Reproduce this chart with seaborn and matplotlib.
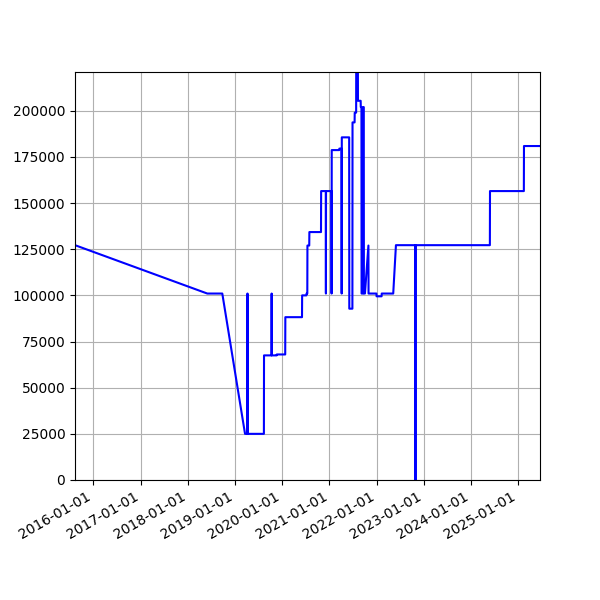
import matplotlib
matplotlib.use("Agg")
import matplotlib.pyplot as plt
import matplotlib.dates as mdates
import seaborn as sns
import pandas as pd

dates = [
    "2015-08-12", "2018-06-01", "2018-09-25", "2019-03-20",
    "2019-04-07", "2019-04-08", "2019-04-09",
    "2019-08-13", "2019-08-14",
    "2019-10-11", "2019-10-12", "2019-10-13",
    "2019-11-20", "2019-11-21",
    "2020-01-25", "2020-01-26",
    "2020-06-03", "2020-06-04",
    "2020-07-07", "2020-07-08",
    "2020-07-14", "2020-07-15",
    "2020-07-29", "2020-07-30",
    "2020-10-28", "2020-10-29",
    "2020-12-04", "2020-12-05", "2020-12-06",
    "2021-01-17", "2021-01-18", "2021-01-19",
    "2021-03-18", "2021-03-19",
    "2021-04-05", "2021-04-06", "2021-04-07",
    "2021-06-03", "2021-06-04",
    "2021-06-28", "2021-06-29",
    "2021-07-15", "2021-07-16",
    "2021-07-27", "2021-07-28",
    "2021-08-09", "2021-08-10",
    "2021-08-31", "2021-09-01",
    "2021-09-06", "2021-09-07",
    "2021-09-17", "2021-09-18",
    "2021-09-24", "2021-09-25",
    "2021-10-03", "2021-10-30", "2021-10-31",
    "2021-12-31", "2022-01-01",
    "2022-02-09", "2022-02-10",
    "2022-05-10", "2022-05-31",
    "2022-10-28", "2022-10-29", "2022-10-30",
    "2024-05-27", "2024-05-28",
    "2025-02-14", "2025-02-15",
    "2025-06-19",
]
prices = [
    127200, 101000, 101000, 25000,
    25000, 101000, 25000,
    25000, 67500,
    67500, 101000, 67500,
    67500, 68000,
    68000, 88200,
    88200, 100000,
    100000, 101000,
    101000, 127000,
    127000, 134300,
    134300, 156500,
    156500, 101000, 156500,
    156500, 101000, 178700,
    178700, 179500,
    179500, 101000, 185600,
    185600, 92800,
    92800, 193700,
    193700, 199000,
    199000, 240000,
    240000, 205400,
    205400, 202000,
    202000, 101000,
    101000, 202000,
    202000, 101000,
    101000, 127000, 101000,
    101000, 99500,
    99500, 101000,
    101000, 127200,
    127200, 0, 127200,
    127200, 156500,
    156500, 180900,
    180900,
]

df = pd.DataFrame({"date": pd.to_datetime(dates), "price": prices})

fig, ax = plt.subplots(figsize=(6, 6), dpi=100)
sns.lineplot(data=df, x="date", y="price", color="blue", estimator=None,
             sort=False, ax=ax, linewidth=1.5)
ax.set_xlabel("")
ax.set_ylabel("")
ax.grid(True)
ax.set_xlim(pd.Timestamp("2015-08-12"), pd.Timestamp("2025-06-19"))
ax.set_ylim(0, 221000)
ax.xaxis.set_major_locator(mdates.YearLocator())
ax.xaxis.set_major_formatter(mdates.DateFormatter("%Y-%m-%d"))
fig.autofmt_xdate()
fig.savefig("out.png", dpi=100)
